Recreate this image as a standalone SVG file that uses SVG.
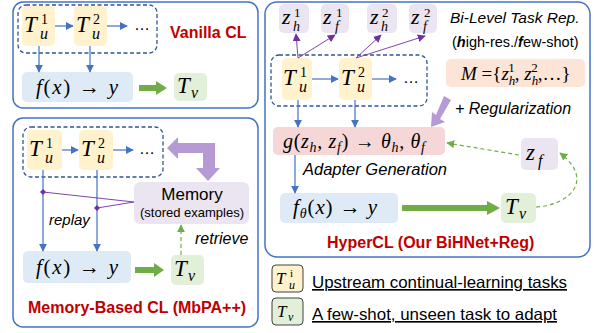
<svg xmlns="http://www.w3.org/2000/svg" width="594" height="333" viewBox="0 0 594 333">
<defs>
<style>
.panel{fill:#fff;stroke:#4472c4;stroke-width:1.5}
.dash{fill:none;stroke:#2f5597;stroke-width:1.3;stroke-dasharray:4 2.5}
.yel{fill:#fff2cc}
.blu{fill:#deebf7}
.grn{fill:#e2f0d9}
.lav{fill:#ebe5f1}
.pink{fill:#f6d7d7}
.peach{fill:#fce4d6}
.m{font-family:"Liberation Serif","DejaVu Serif",serif;font-style:italic;fill:#000}
.up{font-style:normal}
.s{font-family:"Liberation Sans","DejaVu Sans",sans-serif;fill:#000}
.it{font-style:italic}
.red{font-family:"Liberation Sans","DejaVu Sans",sans-serif;font-weight:bold;fill:#c00000;font-size:16px}
.ba{stroke:#4472c4;stroke-width:1.2;fill:none}
.pa{stroke:#7030a0;stroke-width:0.9;fill:none}
.ga{stroke:#70ad47;stroke-width:6;fill:none}
.gd{stroke:#70ad47;stroke-width:1.2;fill:none;stroke-dasharray:4 3}
</style>
<marker id="mb" viewBox="0 0 10 10" refX="9" refY="5" markerWidth="8" markerHeight="8" markerUnits="userSpaceOnUse" orient="auto"><path d="M0,0L10,5L0,10z" fill="#4472c4"/></marker>
<marker id="mp" viewBox="0 0 10 10" refX="9" refY="5" markerWidth="8" markerHeight="8" markerUnits="userSpaceOnUse" orient="auto"><path d="M0,0L10,5L0,10z" fill="#7030a0"/></marker>
<marker id="mg" viewBox="0 0 10 10" refX="9" refY="5" markerWidth="8" markerHeight="8" markerUnits="userSpaceOnUse" orient="auto"><path d="M0,0L10,5L0,10z" fill="#70ad47"/></marker>
<marker id="md" viewBox="0 0 10 10" refX="5" refY="5" markerWidth="6" markerHeight="6" markerUnits="userSpaceOnUse" orient="0"><path d="M5,0L10,5L5,10L0,5z" fill="#7030a0"/></marker>
</defs>

<!-- Panel 1: Vanilla CL -->
<g id="panel-vanilla">
<rect class="panel" x="13" y="2" width="245" height="106" rx="10"/>
<rect class="dash" x="18" y="5" width="139" height="48" rx="8"/>
<text class="red" x="170" y="38">Vanilla CL</text>
</g>
<g id="v-t1"><rect class="yel" x="22" y="6" width="33" height="40" rx="5"/>
<text class="m"><tspan x="24" y="32" font-size="23">T</tspan><tspan class="up" x="41" y="24" font-size="14">1</tspan><tspan x="40" y="39" font-size="16">u</tspan></text></g>
<g id="v-t2"><rect class="yel" x="74" y="6" width="33" height="40" rx="5"/>
<text class="m"><tspan x="76" y="32" font-size="23">T</tspan><tspan class="up" x="93" y="24" font-size="14">2</tspan><tspan x="92" y="39" font-size="16">u</tspan></text></g>
<g id="v-dots"><text class="s" x="134" y="30" font-size="16">…</text></g>
<g id="v-f"><rect class="blu" x="22" y="72" width="111" height="30" rx="5"/>
<text class="m" x="36" y="94" font-size="21" textLength="82" lengthAdjust="spacing">f<tspan class="up">(</tspan>x<tspan class="up">) → </tspan>y</text></g>
<g id="v-tv"><rect class="grn" x="174" y="73" width="33" height="28" rx="5"/>
<text class="m"><tspan x="177" y="93" font-size="23">T</tspan><tspan x="191" y="98" font-size="16">v</tspan></text></g>

<!-- Panel 2: Memory-Based CL -->
<g id="panel-memory">
<rect class="panel" x="13" y="118" width="245" height="209" rx="10"/>
<rect class="dash" x="23" y="127" width="140" height="50" rx="8"/>
<text class="red" x="28" y="313">Memory-Based CL (MbPA++)</text>
</g>
<g id="m-t1"><rect class="yel" x="27" y="130" width="35" height="40" rx="5"/>
<text class="m"><tspan x="29" y="156" font-size="23">T</tspan><tspan class="up" x="46" y="148" font-size="14">1</tspan><tspan x="45" y="163" font-size="16">u</tspan></text></g>
<g id="m-t2"><rect class="yel" x="79" y="130" width="34" height="40" rx="5"/>
<text class="m"><tspan x="81" y="156" font-size="23">T</tspan><tspan class="up" x="98" y="148" font-size="14">2</tspan><tspan x="97" y="163" font-size="16">u</tspan></text></g>
<g id="m-dots"><text class="s" x="139" y="154" font-size="16">…</text></g>
<g id="m-memory"><rect class="lav" x="134" y="182" width="115" height="42" rx="6"/>
<text class="s" x="192" y="200" font-size="17" text-anchor="middle">Memory</text>
<text class="s" x="192" y="217" font-size="13" text-anchor="middle">(stored examples)</text></g>
<g id="m-f"><rect class="blu" x="23" y="251" width="108" height="32" rx="5"/>
<text class="m" x="36" y="274" font-size="21" textLength="82" lengthAdjust="spacing">f<tspan class="up">(</tspan>x<tspan class="up">) → </tspan>y</text></g>
<g id="m-tv"><rect class="grn" x="171" y="255" width="33" height="30" rx="5"/>
<text class="m"><tspan x="174" y="276" font-size="23">T</tspan><tspan x="188" y="281" font-size="16">v</tspan></text></g>
<g id="m-labels">
<text class="s it" x="49" y="225" font-size="15">replay</text>
<text class="s it" x="195" y="244" font-size="16">retrieve</text>
</g>

<!-- Panel 3: HyperCL -->
<g id="panel-hyper">
<rect class="panel" x="265" y="2" width="325" height="255" rx="12"/>
<rect class="dash" x="271" y="55" width="156" height="51" rx="8"/>
<text class="red" x="327" y="248">HyperCL (Our BiHNet+Reg)</text>
<text class="s it" x="450" y="23" font-size="15.5">Bi-Level Task Rep.</text>
<text class="s" x="452" y="47" font-size="14.5">(<tspan font-weight="bold" font-style="italic">h</tspan>igh-res./<tspan font-weight="bold" font-style="italic">f</tspan>ew-shot)</text>
<text class="s it" x="455" y="114" font-size="16">+ Regularization</text>
<text class="s it" x="303" y="175" font-size="16.5">Adapter Generation</text>
</g>
<g id="h-zh1"><rect class="lav" x="279" y="4" width="30" height="29" rx="5"/>
<text class="m"><tspan x="282" y="24" font-size="22">z</tspan><tspan class="up" x="294" y="17" font-size="13">1</tspan><tspan x="293" y="31" font-size="14">h</tspan></text></g>
<g id="h-zf1"><rect class="lav" x="321" y="4" width="28" height="29" rx="5"/>
<text class="m"><tspan x="323" y="24" font-size="22">z</tspan><tspan class="up" x="336" y="17" font-size="13">1</tspan><tspan x="335" y="31" font-size="14">f</tspan></text></g>
<g id="h-zh2"><rect class="lav" x="367" y="4" width="30" height="29" rx="5"/>
<text class="m"><tspan x="370" y="24" font-size="22">z</tspan><tspan class="up" x="382" y="17" font-size="13">2</tspan><tspan x="381" y="31" font-size="14">h</tspan></text></g>
<g id="h-zf2"><rect class="lav" x="409" y="4" width="28" height="29" rx="5"/>
<text class="m"><tspan x="411" y="24" font-size="22">z</tspan><tspan class="up" x="424" y="17" font-size="13">2</tspan><tspan x="423" y="31" font-size="14">f</tspan></text></g>
<g id="h-t1"><rect class="yel" x="282" y="58" width="30" height="42" rx="5"/>
<text class="m"><tspan x="283" y="85" font-size="23">T</tspan><tspan class="up" x="300" y="77" font-size="14">1</tspan><tspan x="299" y="92" font-size="16">u</tspan></text></g>
<g id="h-t2"><rect class="yel" x="339" y="58" width="33" height="42" rx="5"/>
<text class="m"><tspan x="341" y="85" font-size="23">T</tspan><tspan class="up" x="358" y="77" font-size="14">2</tspan><tspan x="357" y="92" font-size="16">u</tspan></text></g>
<g id="h-dots"><text class="s" x="403" y="83" font-size="16">…</text></g>
<g id="h-M"><rect class="peach" x="446" y="59" width="139" height="28" rx="5"/>
<text class="m" x="461" y="80" font-size="19">M <tspan class="up">=</tspan><tspan class="up">{</tspan>z<tspan font-size="13" dy="5">h</tspan><tspan font-size="13" class="up" dy="-13" dx="-7">1</tspan><tspan class="up" dy="8">, </tspan>z<tspan font-size="13" dy="5">h</tspan><tspan font-size="13" class="up" dy="-13" dx="-7">2</tspan><tspan class="up" dy="8">,…}</tspan></text></g>
<g id="h-g"><rect class="pink" x="273" y="127" width="172" height="28" rx="5"/>
<text class="m" x="283" y="148" font-size="20" textLength="142" lengthAdjust="spacing">g<tspan class="up">(</tspan>z<tspan font-size="14" dy="4">h</tspan><tspan class="up" dy="-4">, </tspan>z<tspan font-size="14" dy="4">f</tspan><tspan class="up" dy="-4">) → </tspan>θ<tspan font-size="14" dy="4">h</tspan><tspan class="up" dy="-4">, </tspan>θ<tspan font-size="14" dy="4">f</tspan></text></g>
<g id="h-f"><rect class="blu" x="280" y="193" width="118" height="30" rx="5"/>
<text class="m" x="293" y="214" font-size="21" textLength="84" lengthAdjust="spacing">f<tspan font-size="14" dy="4">θ</tspan><tspan class="up" dy="-4">(</tspan>x<tspan class="up">) → </tspan>y</text></g>
<g id="h-tv"><rect class="grn" x="501" y="193" width="35" height="30" rx="5"/>
<text class="m"><tspan x="505" y="214" font-size="23">T</tspan><tspan x="519" y="219" font-size="16">v</tspan></text></g>
<g id="h-zf"><rect class="lav" x="521" y="138" width="37" height="32" rx="5"/>
<text class="m"><tspan x="526" y="160" font-size="23">z</tspan><tspan x="538" y="166" font-size="16">f</tspan></text></g>

<!-- Legend -->
<g id="legend-upstream"><rect fill="#fff2cc" stroke="#404040" stroke-width="1" x="272" y="265" width="31" height="27" rx="4"/>
<text class="m"><tspan x="276" y="284" font-size="17">T</tspan><tspan class="up" x="290" y="277" font-size="11">i</tspan><tspan x="289" y="289" font-size="12">u</tspan></text>
<text class="s" x="312" y="288" font-size="16.5" textLength="255" lengthAdjust="spacingAndGlyphs" text-decoration="underline">Upstream continual-learning tasks</text></g>
<g id="legend-fewshot"><rect fill="#e2f0d9" stroke="#404040" stroke-width="1" x="272" y="298" width="31" height="27" rx="4"/>
<text class="m"><tspan x="277" y="317" font-size="17">T</tspan><tspan x="288" y="321" font-size="12">v</tspan></text>
<text class="s" x="312" y="320" font-size="16.5" textLength="245" lengthAdjust="spacingAndGlyphs" text-decoration="underline">A few-shot, unseen task to adapt</text></g>

<!-- Connectors -->
<g id="connectors">
<line class="ba" x1="55" y1="26" x2="73" y2="26" marker-end="url(#mb)"/>
<line class="ba" x1="107" y1="26" x2="127" y2="26" marker-end="url(#mb)"/>
<line class="ba" x1="39" y1="46" x2="39" y2="72" marker-end="url(#mb)"/>
<line class="ba" x1="90" y1="46" x2="90" y2="72" marker-end="url(#mb)"/>
<path d="M139,88H157" class="ga"/><path d="M156,81L167,88L156,95z" fill="#70ad47"/>

<line class="ba" x1="62" y1="150" x2="78" y2="150" marker-end="url(#mb)"/>
<line class="ba" x1="113" y1="150" x2="133" y2="150" marker-end="url(#mb)"/>
<line class="ba" x1="43" y1="170" x2="43" y2="251" marker-end="url(#mb)"/>
<line class="ba" x1="97" y1="170" x2="97" y2="251" marker-end="url(#mb)"/>
<path d="M167,148L178,137V143H215V168H220L208,181L196,168H203V153H178V159z" fill="#b59ad3"/>
<path class="pa" d="M134,202L43,192" marker-end="url(#md)"/>
<path class="pa" d="M134,202L97,208" marker-end="url(#md)"/>
<path d="M135,270H155" class="ga"/><path d="M154,263L164,270L154,277z" fill="#70ad47"/>
<line class="gd" x1="181" y1="255" x2="181" y2="225" marker-end="url(#mg)"/>

<line class="pa" x1="298" y1="58" x2="296" y2="34" marker-end="url(#mp)"/>
<line class="pa" x1="298" y1="58" x2="335" y2="35" marker-end="url(#mp)"/>
<line class="pa" x1="356" y1="58" x2="381" y2="35" marker-end="url(#mp)"/>
<line class="pa" x1="356" y1="58" x2="425" y2="36" marker-end="url(#mp)"/>
<line class="ba" x1="312" y1="79" x2="338" y2="79" marker-end="url(#mb)"/>
<line class="ba" x1="372" y1="79" x2="396" y2="79" marker-end="url(#mb)"/>
<line class="ba" x1="298" y1="100" x2="298" y2="127" marker-end="url(#mb)"/>
<line class="ba" x1="355" y1="100" x2="355" y2="127" marker-end="url(#mb)"/>
<path d="M444,96L451,100L440,119L445,122L431,127L432,112L436,115z" fill="#b59ad3"/>
<line class="ba" x1="295" y1="155" x2="295" y2="193" marker-end="url(#mb)"/>
<path d="M402,208H488" class="ga"/><path d="M487,201L500,208L487,215z" fill="#70ad47"/>
<path class="gd" d="M536,207C570,205 595,180 560,153" marker-end="url(#mg)"/>
<path class="gd" d="M519,155L447,143" marker-end="url(#mg)"/>
</g>
</svg>
